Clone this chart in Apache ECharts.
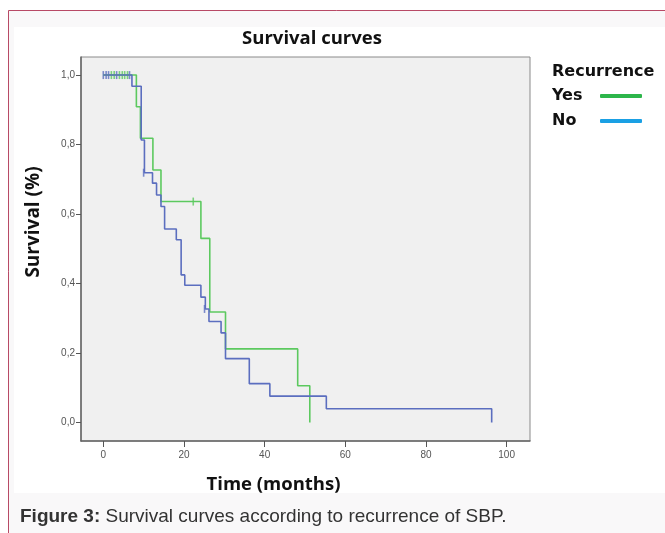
<!DOCTYPE html>
<html>
<head>
<meta charset="utf-8">
<script src="https://cdn.jsdelivr.net/npm/echarts@6/dist/echarts.min.js"></script>
<style>
  body { margin: 0; background: #ffffff; }
  #chart { width: 665px; height: 533px; }
</style>
</head>
<body>
<div id="chart"></div>
<script>
// Kaplan-Meier steps (time in months, survival as fraction)
const yesTimes = [0, 8.2, 9.2, 12.3, 14.3, 24.2, 26.4, 30.3, 48.2, 51.2];
const yesSurv  = [1, 0.909, 0.818, 0.727, 0.636, 0.530, 0.318, 0.212, 0.106, 0];
const yesCensorTimes = [2.0, 2.7, 4.0, 4.7, 5.3, 6.0, 22.3];
const yesCensorSurv  = [1, 1, 1, 1, 1, 1, 0.636];

const noTimes = [0, 7.1, 9.4, 10.2, 12.2, 13.2, 14.3, 15.2, 18.1, 19.3, 20.2, 24.2, 25.3, 26.2, 29.2, 30.3, 36.2, 41.3, 55.3, 96.3];
const noSurv  = [1, 0.968, 0.813, 0.719, 0.689, 0.655, 0.622, 0.557, 0.526, 0.425, 0.395, 0.361, 0.327, 0.291, 0.258, 0.184, 0.112, 0.076, 0.040, 0];
const noCensorTimes = [0, 0.7, 1.3, 3.3, 6.5, 10.0, 25.1];
const noCensorSurv  = [1, 1, 1, 1, 1, 0.719, 0.327];

const xTicks = [0, 20, 40, 60, 80, 100];
const yTicks = [0, 0.2, 0.4, 0.6, 0.8, 1.0];

const green = '#5cc95f';
const blue = '#5b6ebf';

const zip = (a, b) => a.map((v, i) => [v, b[i]]);

const chart = echarts.init(document.getElementById('chart'));

const option = {
  backgroundColor: '#f9f8f9',
  animation: false,
  title: [
    {
      text: 'Survival curves',
      left: 307, top: 24, textAlign: 'center',
      textStyle: { fontFamily: 'Open Sans', fontWeight: 'bold', fontSize: 18.5, color: '#111' }
    },
    {
      text: 'Recurrence',
      left: 547, top: 59,
      textStyle: { fontFamily: 'DejaVu Sans', fontWeight: 'bold', fontSize: 16, color: '#111' }
    }
  ],
  legend: {
    orient: 'vertical',
    left: 547, top: 83,
    align: 'right',
    itemGap: 9,
    itemWidth: 42, itemHeight: 4,
    formatter: name => '{a|' + name + '}',
    textStyle: {
      fontFamily: 'DejaVu Sans', fontWeight: 'bold', fontSize: 16, color: '#111',
      rich: { a: { width: 43, align: 'left', fontFamily: 'DejaVu Sans', fontWeight: 'bold', fontSize: 16, color: '#111' } }
    },
    data: [
      { name: 'Yes', icon: 'roundRect', itemStyle: { color: '#2db64b' } },
      { name: 'No', icon: 'roundRect', itemStyle: { color: '#1aa0e4' } }
    ]
  },
  grid: {
    left: 81, right: 135, top: 57, bottom: 92,
    show: true,
    backgroundColor: '#f0f0f0',
    borderColor: '#8a8a8a',
    borderWidth: 1
  },
  xAxis: {
    type: 'value',
    min: -5.53, max: 105.8,
    name: 'Time (months)',
    nameLocation: 'middle',
    nameGap: 34,
    nameTextStyle: {
      fontFamily: 'Open Sans', fontWeight: 'bold', fontSize: 18.5, color: '#111',
      padding: [0, 64, 0, 0]
    },
    axisLine: { show: true, onZero: false, lineStyle: { color: '#666', width: 1.5 } },
    axisTick: { show: true, length: 6, customValues: xTicks, lineStyle: { color: '#555' } },
    axisLabel: { customValues: xTicks, fontFamily: 'Liberation Sans', fontSize: 10, color: '#555', margin: 9 },
    splitLine: { show: false }
  },
  yAxis: {
    type: 'value',
    min: -0.053, max: 1.052,
    name: 'Survival (%)',
    nameLocation: 'middle',
    nameGap: 38,
    nameTextStyle: {
      fontFamily: 'Open Sans', fontWeight: 'bold', fontSize: 19, color: '#111',
      padding: [0, 0, 0, 54]
    },
    axisLine: { show: true, onZero: false, lineStyle: { color: '#666', width: 1.5 } },
    axisTick: { show: true, length: 5, customValues: yTicks, lineStyle: { color: '#555' } },
    axisLabel: {
      customValues: yTicks,
      fontFamily: 'Liberation Sans', fontSize: 10, color: '#555', margin: 6,
      formatter: v => v.toFixed(1).replace('.', ',')
    },
    splitLine: { show: false }
  },
  graphic: [
    { type: 'rect', z: -100, shape: { x: 0, y: 0, width: 665, height: 10 }, style: { fill: '#ffffff' } },
    { type: 'rect', z: -100, shape: { x: 0, y: 0, width: 8, height: 533 }, style: { fill: '#ffffff' } },
    { type: 'rect', z: -90, shape: { x: 14, y: 27, width: 651, height: 466 }, style: { fill: '#ffffff' } },
    { type: 'line', z: -80, shape: { x1: 8.5, y1: 10.5, x2: 665, y2: 10.5 }, style: { stroke: '#b84a66', lineWidth: 1 } },
    { type: 'line', z: -80, shape: { x1: 8.5, y1: 10.5, x2: 8.5, y2: 533 }, style: { stroke: '#b84a66', lineWidth: 1 } },
    {
      type: 'text', left: 20, top: 507,
      style: {
        text: '{b|Figure 3:} Survival curves according to recurrence of SBP.',
        font: '19px "Liberation Sans"',
        fill: '#333',
        rich: { b: { fontWeight: 'bold', fontSize: 19, fontFamily: 'Liberation Sans', fill: '#333' } }
      }
    }
  ],
  series: [
    {
      name: 'Yes', type: 'line', step: 'end', showSymbol: false,
      data: zip(yesTimes, yesSurv),
      itemStyle: { color: green },
      lineStyle: { color: green, width: 1.6 }
    },
    {
      name: 'No', type: 'line', step: 'end', showSymbol: false,
      data: zip(noTimes, noSurv),
      itemStyle: { color: blue },
      lineStyle: { color: blue, width: 1.6 }
    },
    {
      name: 'Yes censored', type: 'scatter', symbol: 'rect', symbolSize: [1.6, 8],
      data: zip(yesCensorTimes, yesCensorSurv),
      itemStyle: { color: green }
    },
    {
      name: 'No censored', type: 'scatter', symbol: 'rect', symbolSize: [1.6, 8],
      data: zip(noCensorTimes, noCensorSurv),
      itemStyle: { color: blue }
    }
  ]
};

chart.setOption(option);
</script>
</body>
</html>
